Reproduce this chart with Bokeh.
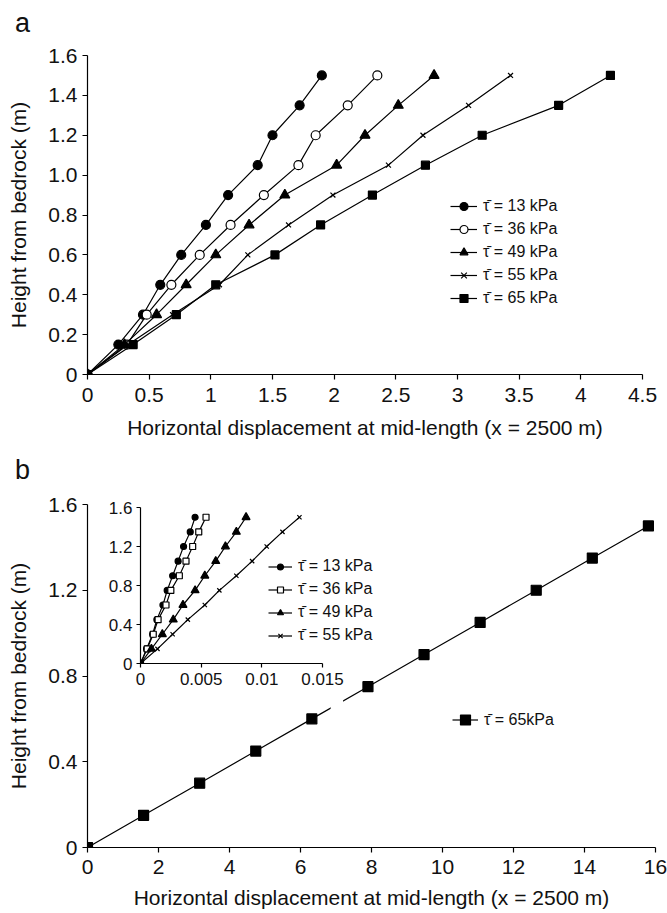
from bokeh.plotting import figure
from bokeh.models import Range1d, FixedTicker, Legend, LegendItem, BoxAnnotation, Div, ColumnDataSource
from bokeh.layouts import column
from bokeh.embed import file_html
from bokeh.resources import INLINE

FONT = "Liberation Sans"

# ---------------- data ----------------
HEIGHTS = [0, 0.15, 0.3, 0.45, 0.6, 0.75, 0.9, 1.05, 1.2, 1.35, 1.5]

A_LABELS = ["τ̄ = 13 kPa", "τ̄ = 36 kPa", "τ̄ = 49 kPa", "τ̄ = 55 kPa", "τ̄ = 65 kPa"]
A_X_13 = [0, 0.25, 0.45, 0.59, 0.76, 0.96, 1.14, 1.38, 1.50, 1.72, 1.90]
A_X_36 = [0, 0.32, 0.48, 0.68, 0.91, 1.16, 1.43, 1.71, 1.85, 2.11, 2.35]
A_X_49 = [0, 0.30, 0.56, 0.80, 1.04, 1.31, 1.60, 2.02, 2.25, 2.52, 2.81]
A_X_55 = [0, 0.33, 0.69, 1.07, 1.30, 1.63, 1.99, 2.44, 2.72, 3.09, 3.43]
A_X_65 = [0, 0.37, 0.72, 1.04, 1.52, 1.89, 2.31, 2.74, 3.20, 3.82, 4.24]

B_LABEL = "τ̄ = 65kPa"
B_X_65 = [0, 1.58, 3.16, 4.74, 6.32, 7.90, 9.48, 11.06, 12.64, 14.22, 15.80]

INSET_LABELS = ["τ̄ = 13 kPa", "τ̄ = 36 kPa", "τ̄ = 49 kPa", "τ̄ = 55 kPa"]
IN_X_13 = [0, 0.0005, 0.0010, 0.00135, 0.00185, 0.0022, 0.00265, 0.0031, 0.00355, 0.0041, 0.0045]
IN_X_36 = [0, 0.00055, 0.00105, 0.00145, 0.0021, 0.0025, 0.0032, 0.00375, 0.0043, 0.0048, 0.0054]
IN_X_49 = [0, 0.0009, 0.0018, 0.0027, 0.0035, 0.0045, 0.0053, 0.0062, 0.0070, 0.0079, 0.0087]
IN_X_55 = [0, 0.0014, 0.00265, 0.0039, 0.0053, 0.0065, 0.0079, 0.0092, 0.0104, 0.0117, 0.0131]

# ticks
A_X_TICKS = [0, 0.5, 1, 1.5, 2, 2.5, 3, 3.5, 4, 4.5]
A_X_TICK_LABELS = ["0", "0.5", "1", "1.5", "2", "2.5", "3", "3.5", "4", "4.5"]
A_Y_TICKS = [0, 0.2, 0.4, 0.6, 0.8, 1.0, 1.2, 1.4, 1.6]
A_Y_TICK_LABELS = ["0", "0.2", "0.4", "0.6", "0.8", "1.0", "1.2", "1.4", "1.6"]
B_X_TICKS = [0, 2, 4, 6, 8, 10, 12, 14, 16]
B_X_TICK_LABELS = ["0", "2", "4", "6", "8", "10", "12", "14", "16"]
B_Y_TICKS = [0, 0.4, 0.8, 1.2, 1.6]
B_Y_TICK_LABELS = ["0", "0.4", "0.8", "1.2", "1.6"]
IN_X_TICKS = [0, 0.005, 0.01, 0.015]
IN_X_TICK_LABELS = ["0", "0.005", "0.01", "0.015"]
IN_Y_TICKS = [0, 0.4, 0.8, 1.2, 1.6]
IN_Y_TICK_LABELS = ["0", "0.4", "0.8", "1.2", "1.6"]

X_TITLE = "Horizontal displacement at mid-length (x = 2500 m)"
Y_TITLE = "Height from bedrock (m)"
PANEL_A = "a"
PANEL_B = "b"


def no_align(p):
    try:
        p.frame_align = False
    except Exception:
        pass


def style(p, xt, xl, yt, yl, tick_font, tick_out, standoff_x, standoff_y):
    p.xaxis.ticker = FixedTicker(ticks=xt)
    p.xaxis.major_label_overrides = dict(zip(xt, xl))
    p.yaxis.ticker = FixedTicker(ticks=yt)
    p.yaxis.major_label_overrides = dict(zip(yt, yl))
    for ax in (p.xaxis[0], p.yaxis[0]):
        ax.axis_line_color = "black"
        ax.axis_line_width = 1.2
        ax.major_tick_line_color = "black"
        ax.major_tick_line_width = 1.2
        ax.major_tick_in = 0
        ax.major_tick_out = tick_out
        ax.minor_tick_line_color = None
        ax.major_label_text_font = FONT
        ax.major_label_text_font_size = tick_font
        ax.major_label_text_color = "#111111"
        ax.axis_label_text_font = FONT
        ax.axis_label_text_font_size = "21px"
        ax.axis_label_text_font_style = "normal"
        ax.axis_label_text_color = "#111111"
    p.xaxis[0].major_label_standoff = standoff_x
    p.yaxis[0].major_label_standoff = standoff_y
    p.xgrid.visible = False
    p.ygrid.visible = False
    p.outline_line_color = None
    no_align(p)


def series(p, xs, ys, marker, size, fill="black", lw=1.2):
    src = ColumnDataSource(dict(x=xs, y=ys))
    r1 = p.line("x", "y", source=src, line_color="black", line_width=lw)
    r2 = p.scatter("x", "y", source=src, marker=marker, size=size, line_color="black",
                   fill_color=fill, line_width=1.2)
    return [r1, r2]


def make_legend(items, loc, glyph_w, glyph_h, spacing, font):
    lg = Legend(items=items, location=loc)
    lg.border_line_color = None
    lg.background_fill_alpha = 0
    lg.padding = 0
    lg.margin = 0
    lg.spacing = spacing
    lg.glyph_width = glyph_w
    lg.glyph_height = glyph_h
    lg.label_height = glyph_h
    lg.label_standoff = 6
    lg.label_text_font = FONT
    lg.label_text_font_size = font
    lg.label_text_color = "#111111"
    return lg


def panel_tag(text, left, top):
    return Div(text=text, width=30, height=30,
               styles={"position": "absolute", "left": f"{left}px", "top": f"{top}px",
                       "font-family": FONT, "font-size": "27px", "line-height": "27px",
                       "color": "#111111", "z-index": "6"})


# ---------------- panel a ----------------
pa = figure(width=667, height=445, x_range=Range1d(0, 4.5), y_range=Range1d(0, 1.6),
            output_backend="svg", toolbar_location=None,
            min_border_left=87, min_border_right=25, min_border_top=55, min_border_bottom=71)
style(pa, A_X_TICKS, A_X_TICK_LABELS, A_Y_TICKS, A_Y_TICK_LABELS, "21px", 5, 8, 5)
pa.xaxis.axis_label = X_TITLE
pa.yaxis.axis_label = Y_TITLE
pa.xaxis.axis_label_standoff = 11
pa.yaxis.axis_label_standoff = 15

ra = [
    series(pa, A_X_13, HEIGHTS, "circle", 9),
    series(pa, A_X_36, HEIGHTS, "circle", 9, fill="white"),
    series(pa, A_X_49, HEIGHTS, "triangle", 10),
    series(pa, A_X_55, HEIGHTS, "x", 7),
    series(pa, A_X_65, HEIGHTS, "square", 8),
]
pa.add_layout(make_legend([LegendItem(label=l, renderers=r) for l, r in zip(A_LABELS, ra)],
                          (363, 66), 27, 20, 3, "16px"))

# ---------------- panel b ----------------
pb = figure(width=667, height=468, x_range=Range1d(0, 16), y_range=Range1d(0, 1.6),
            output_backend="svg", toolbar_location=None,
            min_border_left=87, min_border_right=12, min_border_top=59, min_border_bottom=66)
style(pb, B_X_TICKS, B_X_TICK_LABELS, B_Y_TICKS, B_Y_TICK_LABELS, "21px", 5, 7, 5)
pb.xaxis.axis_label = X_TITLE
pb.yaxis.axis_label = Y_TITLE
pb.xaxis.axis_label_standoff = 9
pb.yaxis.axis_label_standoff = 15
rb = series(pb, B_X_65, HEIGHTS, "square", 10)
pb.add_layout(BoxAnnotation(left=6.85, right=7.2, bottom=0.62, top=0.72,
                            fill_color="white", fill_alpha=1, line_color=None))
pb.add_layout(make_legend([LegendItem(label=B_LABEL, renderers=rb)], (365, 115), 26, 25, 0, "16px"))

# ---------------- inset ----------------
ins = figure(width=280, height=205, x_range=Range1d(0, 0.015), y_range=Range1d(0, 1.6),
             output_backend="svg", toolbar_location=None,
             min_border_left=40, min_border_right=58, min_border_top=12, min_border_bottom=37,
             background_fill_alpha=0, border_fill_alpha=0)
style(ins, IN_X_TICKS, IN_X_TICK_LABELS, IN_Y_TICKS, IN_Y_TICK_LABELS, "17px", 4, 5, 4)
INSET_STYLE = [("circle", 6, "black"), ("square", 6, "white"), ("triangle", 8, "black"), ("x", 6, "black")]
for xs, (mk, sz, fc) in zip([IN_X_13, IN_X_36, IN_X_49, IN_X_55], INSET_STYLE):
    series(ins, xs, HEIGHTS, mk, sz, fill=fc)
ins.styles = {"position": "absolute", "left": "100px", "top": "495px", "z-index": "5"}

# inset key: drawn in panel b (the inset frame would clip it); key-only glyphs with no drawable point
key_src = ColumnDataSource(dict(x=[float("nan")], y=[float("nan")]))
key_items = []
for lbl, (mk, sz, fc) in zip(INSET_LABELS, INSET_STYLE):
    k1 = pb.line("x", "y", source=key_src, line_color="black", line_width=1.2)
    k2 = pb.scatter("x", "y", source=key_src, marker=mk, size=sz, line_color="black",
                    fill_color=fc, line_width=1.2)
    key_items.append(LegendItem(label=lbl, renderers=[k1, k2]))
pb.add_layout(make_legend(key_items, (181, 203), 24, 15, 5, "16px"))

tag_a = panel_tag(PANEL_A, 10, 5)
tag_b = panel_tag(PANEL_B, 10, 452)

layout = column(pa, pb, ins, tag_a, tag_b)
open("out.html", "w").write(file_html(layout, INLINE))
